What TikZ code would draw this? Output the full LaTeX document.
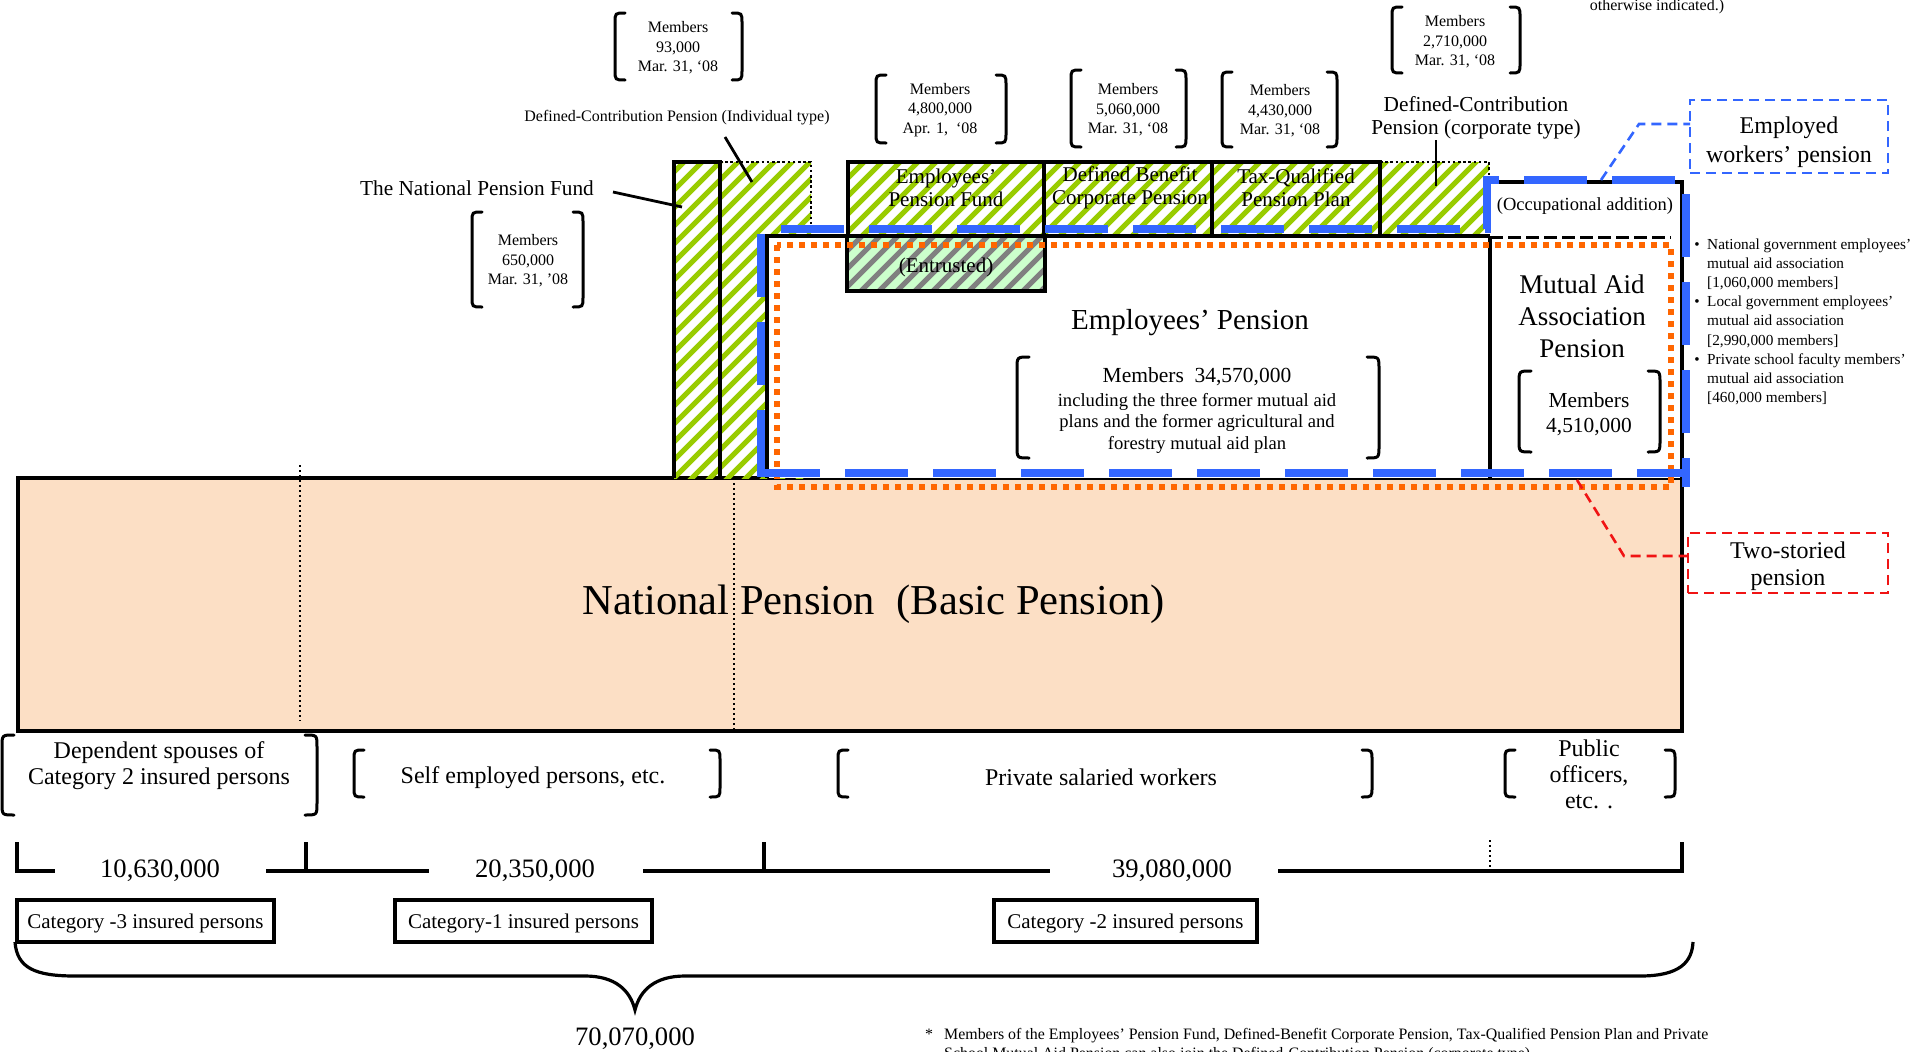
\documentclass[tikz,border=0pt]{standalone}
\usepackage{fontspec}
\setmainfont{Liberation Serif}
\usetikzlibrary{calc}
\definecolor{hgreen}{RGB}{153,204,0}
\definecolor{eblue}{RGB}{51,102,255}
\definecolor{torange}{RGB}{255,102,0}
\definecolor{npfill}{RGB}{252,223,197}
\definecolor{entfill}{RGB}{204,255,204}
\definecolor{hgrey}{RGB}{128,128,128}
\definecolor{tred}{RGB}{240,20,20}
\newcommand{\myfs}[2]{\fontsize{#1}{#2}\selectfont}
\newcommand{\hatchbox}[5]{%
  \begin{scope}
  \clip (#1,#2) rectangle (#3,#4);
  \pgfmathtruncatemacro{\hlo}{floor((#1+#2)/18)-1}%
  \pgfmathtruncatemacro{\hhi}{ceil((#3+#4)/18)+1}%
  \foreach \hk in {\hlo,...,\hhi}{%
    \draw[line width=5,#5] ({\hk*18-#4-6},{#4+6}) -- ({\hk*18-#2+6},{#2-6});}%
  \end{scope}}
\newcommand{\brpair}[5][10]{%
  \draw[brk] (#2+#1,#4) .. controls (#2,#4) .. (#2,#4+#1) -- (#2,#5-#1) .. controls (#2,#5) .. (#2+#1,#5);
  \draw[brk] (#3-#1,#4) .. controls (#3,#4) .. (#3,#4+#1) -- (#3,#5-#1) .. controls (#3,#5) .. (#3-#1,#5);}
\begin{document}
\begin{tikzpicture}[x=1pt,y=-1pt,
  brk/.style={line width=3, line cap=round},
  bline/.style={line width=3.2},
  pline/.style={line width=2.8},
  dotline/.style={line width=2.6, dash pattern=on 2.6 off 2.6},
  txt/.style={inner sep=0, align=center},
  smalltxt/.style={txt, font=\myfs{16}{19.5}},
  bottxt/.style={txt, font=\myfs{24}{26}},
  numtxt/.style={txt, font=\myfs{26.6}{30}},
  catbox/.style={draw, line width=3.2, inner sep=0, minimum height=42, font=\myfs{21}{24}, text height=15, text depth=1},
  bullettxt/.style={inner sep=0, anchor=base west, font=\myfs{15.3}{19}}]
\useasboundingbox (0,0) rectangle (1917,1052);
\fill[white] (0,0) rectangle (1917,1052);

% ---------------- National Pension base box
\fill[npfill] (18,478) rectangle (1682,731);
\draw[dotline, line width=1.8, dash pattern=on 2 off 3] (300,465) -- (300,721);
\draw[dotline, line width=1.8, dash pattern=on 2 off 3] (734,483) -- (734,731);
\draw[bline] (18,478) rectangle (1682,731);

% ---------------- hatched upper boxes
\hatchbox{674}{162}{811}{478}{hgreen}
\hatchbox{848}{162}{1380}{236}{hgreen}
\hatchbox{1380}{162}{1489}{236}{hgreen}

% Employees' Pension box (white)
\fill[white] (767,236) rectangle (1682,478);
\fill[white] (1487,182) rectangle (1682,237);
\draw[bline] (767,478) -- (767,236) -- (1490,236);
\draw[bline] (1490,236) -- (1490,478);
\draw[bline] (1487,182) -- (1682,182) -- (1682,478);
\draw[line width=3, dash pattern=on 13 off 5] (1490,237) -- (1671,237);

% Entrusted box
\fill[entfill] (847,236) rectangle (1045,291);
\hatchbox{847}{236}{1045}{291}{hgrey}
\draw[bline] (847,236) rectangle (1045,291);

% top row borders
\draw[bline] (674,478) -- (674,162) -- (720,162) -- (720,478);
\draw[dotline] (720,162) -- (811,162) -- (811,229);
\draw[bline] (848,236) -- (848,162) -- (1380,162) -- (1380,236);
\draw[bline] (1044,162) -- (1044,236);
\draw[bline] (1212,162) -- (1212,236);
\draw[dotline] (1380,162) -- (1489,162) -- (1489,182);

% orange dotted frame (two-storied pension)
\draw[torange, line width=6, dash pattern=on 6 off 6] (777,245) rectangle (1671,487);

% blue dashed frame (employed workers' pension)
\draw[eblue, line width=7.5, dash pattern=on 63 off 25] (761,473) -- (761,229) -- (1487,229) -- (1487,180) -- (1686,180) -- (1686,487);
\draw[eblue, line width=7.5, dash pattern=on 63 off 25] (757,473) -- (1686,473);

% ---------------- top labels and member brackets
\node[smalltxt] (m93) at (678,48) {Members\\93,000\\Mar. 31, ‘08};
\brpair{615}{742}{13}{80}
\node[smalltxt] (dcilab) at (677,118) {Defined-Contribution Pension (Individual type)};
\coordinate (dcia) at (725,137);
\coordinate (dcib) at (752,182);
\draw[pline] (dcia) -- (dcib);

\node[txt, font=\myfs{21.3}{24}] (npflab) at (477,188) {The National Pension Fund};
\coordinate (npfa) at (613,192);
\coordinate (npfb) at (682,207);
\draw[pline] (npfa) -- (npfb);
\node[smalltxt] (m650) at (528,261) {Members\\650,000\\Mar. 31, '08};
\brpair{472}{583}{212}{307}

\node[smalltxt] (m4800) at (940,110) {Members\\4,800,000\\Apr. 1,~ ‘08};
\brpair{876}{1006}{75}{143}
\node[smalltxt] (m5060) at (1128,110) {Members\\5,060,000\\Mar. 31, ‘08};
\brpair{1071}{1186}{70}{147}
\node[smalltxt] (m4430) at (1280,111) {Members\\4,430,000\\Mar. 31, ‘08};
\brpair{1222}{1337}{72}{147}
\node[smalltxt] (m2710) at (1455,42) {Members\\2,710,000\\Mar. 31, ‘08};
\brpair{1392}{1520}{7}{73}
\node[txt, font=\myfs{21.3}{23}] (dcclab) at (1476,118) {Defined-Contribution\\Pension (corporate type)};
\coordinate (dcca) at (1436,140);
\coordinate (dccb) at (1436,186);
\draw[pline] (dcca) -- (dccb);
\node[inner sep=0, anchor=base, font=\myfs{16}{19}] (other) at (1657,10) {otherwise indicated.)};

% box texts
\node[txt, font=\myfs{21}{23}] (epf) at (946,188) {Employees’\\Pension Fund};
\node[txt, font=\myfs{21}{23}] (db) at (1130,188) {Defined Benefit\\Corporate Pension};
\node[txt, font=\myfs{21}{23}] (tq) at (1296,188) {Tax-Qualified\\Pension Plan};
\node[txt, font=\myfs{18.5}{22}] (occ) at (1585,206) {(Occupational addition)};
\node[txt, font=\myfs{21}{24}] (ent) at (946,267) {(Entrusted)};

% Employees' Pension
\node[txt, font=\myfs{29}{34}] (eptitle) at (1190,323) {Employees’ Pension};
\node[txt, font=\myfs{21.5}{25}] (epmem) at (1197,377) {Members\ \ 34,570,000};
\node[txt, font=\myfs{18.6}{21.5}] (epinc) at (1197,423) {including the three former mutual aid\\plans and the former agricultural and\\forestry mutual aid plan};
\brpair[12]{1017}{1379}{357}{458}

% Mutual Aid
\node[txt, font=\myfs{27}{32}] (ma) at (1582,316) {Mutual Aid\\Association\\Pension};
\node[txt, font=\myfs{21.4}{25}] (mamem) at (1589,414) {Members\\4,510,000};
\brpair[12]{1519}{1660}{371}{452}

% bullets
\foreach \t [count=\i] in {National government employees’, mutual aid association, {[1,060,000 members]}, Local government employees’, mutual aid association, {[2,990,000 members]}, Private school faculty members’, mutual aid association, {[460,000 members]}}{
  \node[bullettxt] (bl\i) at (1707,{249+19.2*(\i-1)}) {\t};
}
\foreach \i in {0,3,6}{
  \node[inner sep=0, anchor=base, font=\myfs{15.3}{19}] (bu\i) at (1697,{249+19.2*\i}) {•};
}

% Employed workers' pension callout
\node[draw=eblue, line width=2.6, dash pattern=on 10 off 6, inner sep=0, minimum width=198, minimum height=73] (emp) at (1789,136.5) {};
\node[txt, font=\myfs{24}{29}] (emptxt) at (1789,142) {Employed\\workers’ pension};
\coordinate (empa) at (1601,180);
\coordinate (empb) at (1639,124);
\coordinate (empc) at (1690,124);
\draw[eblue, line width=2.6, dash pattern=on 10 off 6] (empa) -- (empb) -- (empc);

% Two-storied pension callout
\node[draw=tred, line width=2.6, dash pattern=on 10 off 6, inner sep=0, minimum width=200, minimum height=60] (two) at (1788,563) {};
\node[txt, font=\myfs{24}{27}] (twotxt) at (1788,566) {Two-storied\\pension};
\coordinate (twoa) at (1577,480);
\coordinate (twob) at (1624,556);
\coordinate (twoc) at (1688,556);
\draw[tred, line width=2.6, dash pattern=on 10 off 6] (twoa) -- (twob) -- (twoc);

% National Pension text
\node[txt, font=\myfs{42.6}{48}] (np) at (874,604) {National Pension\ \ (Basic Pension)};

% ---------------- bottom groups
\node[bottxt] (dep) at (159,766) {Dependent spouses of\\Category 2 insured persons};
\brpair[12]{2}{317}{735}{815}
\node[bottxt] (self) at (533,778) {Self employed persons, etc.};
\brpair{354}{720}{750}{797}
\node[bottxt] (priv) at (1101,777) {Private salaried workers};
\brpair{838}{1372}{750}{797}
\node[bottxt] (pub) at (1589,774) {Public\\officers,\\etc. .};
\brpair{1505}{1675}{750}{797}

% counts
\node[numtxt] (n1) at (160,871) {10,630,000};
\node[numtxt] (n2) at (535,871) {20,350,000};
\node[numtxt] (n3) at (1172,871) {39,080,000};
\draw[bline] (17,842) -- (17,871) -- (55,871);
\draw[bline] (266,871) -- (429,871);
\draw[bline] (306,842) -- (306,871);
\draw[bline] (643,871) -- (1050,871);
\draw[bline] (764,842) -- (764,871);
\draw[bline] (1278,871) -- (1682,871) -- (1682,842);
\draw[dotline, line width=1.8, dash pattern=on 2 off 3] (1490,840) -- (1490,871);

% categories
\node[catbox, minimum width=257] (c3) at (145.5,921) {Category -3 insured persons};
\node[catbox, minimum width=257] (c1) at (523.5,921) {Category-1 insured persons};
\node[catbox, minimum width=263] (c2) at (1125.5,921) {Category -2 insured persons};

% total brace
\draw[line width=3.2] (15,942) .. controls (17,968) and (35,976) .. (75,976) -- (585,976) .. controls (615,976) and (630,990) .. (635,1010) .. controls (640,990) and (655,976) .. (685,976) -- (1640,976) .. controls (1680,976) and (1692,962) .. (1693,942);
\node[numtxt] (tot) at (635,1039) {70,070,000};

% footnote
\node[inner sep=0, anchor=base west, font=\myfs{15.9}{19}] (fnstar) at (925,1039) {*};
\node[inner sep=0, anchor=base west, font=\myfs{15.9}{19}] (fn1) at (944,1039) {Members of the Employees’ Pension Fund, Defined-Benefit Corporate Pension, Tax-Qualified Pension Plan and Private};
\node[inner sep=0, anchor=base west, font=\myfs{15.9}{19}] (fn2) at (944,1058) {School Mutual Aid Pension can also join the Defined-Contribution Pension (corporate type).};
\end{tikzpicture}
\end{document}
